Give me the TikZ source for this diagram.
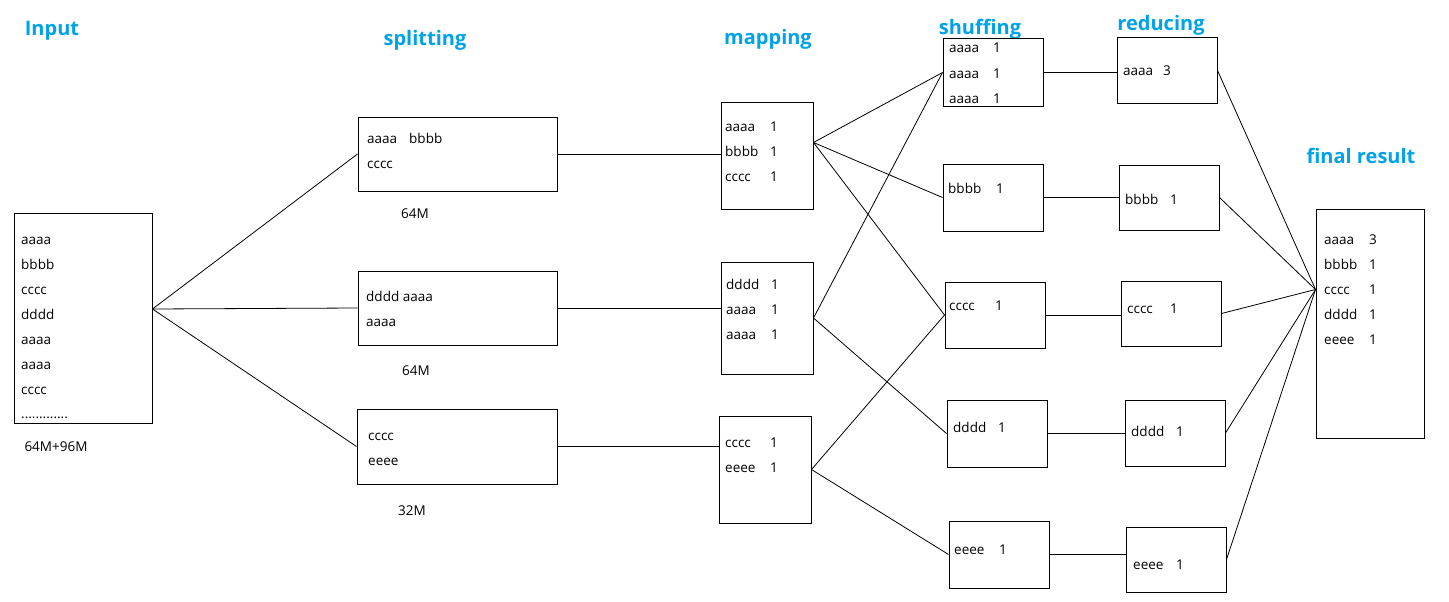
\documentclass[tikz,border=0pt]{standalone}
\usepackage{fontspec}
\setmainfont{Open Sans}
\usetikzlibrary{fit}

\definecolor{headblue}{RGB}{0,162,232}
\newcommand\kv[3][45pt]{\makebox[#1][l]{#2}#3}

\tikzset{
  head/.style={text=headblue,font=\fontsize{20}{24}\selectfont\bfseries,inner sep=0pt},
  box/.style={draw,line width=1pt,inner sep=0pt},
  txt/.style={anchor=west,inner sep=0pt,text height=12pt,text depth=2pt,font=\fontsize{13.5}{15}\selectfont},
  size/.style={txt,anchor=center},
  link/.style={line width=0.8pt}
}

\begin{document}
\begin{tikzpicture}[x=1pt,y=-1pt]
\useasboundingbox (0,0) rectangle (1449,602);

% titles
\node[head] (tin) at (52,31) {Input};
\node[head] (tsplit) at (425,40) {splitting};
\node[head] (tmap) at (768,39) {mapping};
\node[head] (tshuf) at (980,29) {shuffing};
\node[head] (tred) at (1161,25) {reducing};
\node[head] (tfin) at (1361,156) {final result};

% input file
\node[box,fit={(14,213) (152,423)}] (in) {};
\foreach \w [count=\i] in {aaaa,bbbb,cccc,dddd,aaaa,aaaa,cccc}
  \node[txt] at (21,214+25*\i) {\w};
\node[txt] at (21,413) {.............};
\node[size] at (56,446) {64M+96M};

% splitting
\node[box,fit={(358,117) (557,191)}] (s1) {};
\node[txt] at (367,138) {aaaa\hspace{12pt}bbbb};
\node[txt] at (367,163) {cccc};
\node[size] at (415,213) {64M};

\node[box,fit={(358,271) (557,345)}] (s2) {};
\node[txt] at (366,296) {dddd aaaa};
\node[txt] at (366,321) {aaaa};
\node[size] at (416,370) {64M};

\node[box,fit={(357,409) (557,484)}] (s3) {};
\node[txt] at (368,435) {cccc};
\node[txt] at (368,460) {eeee};
\node[size] at (412,510) {32M};

% mapping
\node[box,fit={(721,102) (813,209)}] (m1) {};
\foreach \w [count=\i] in {aaaa,bbbb,cccc}
  \node[txt] at (725,101+25*\i) {\kv{\w}{1}};

\node[box,fit={(721,262) (813,374)}] (m2) {};
\foreach \w [count=\i] in {dddd,aaaa,aaaa}
  \node[txt] at (726,259+25*\i) {\kv{\w}{1}};

\node[box,fit={(719,416) (811,523)}] (m3) {};
\foreach \w [count=\i] in {cccc,eeee}
  \node[txt] at (725,417+25*\i) {\kv{\w}{1}};

% shuffling
\node[box,fit={(943,39) (1043,106)}] (sh1) {};
\foreach \i in {1,2,3}
  \node[txt] at (949,23+25*\i) {\kv[44pt]{aaaa}{1}};
\node[box,fit={(943,164) (1043,231)}] (sh2) {};
\node[txt] at (948,188) {\kv[48pt]{bbbb}{1}};
\node[box,fit={(945,282) (1045,348)}] (sh3) {};
\node[txt] at (949,305) {\kv[46pt]{cccc}{1}};
\node[box,fit={(947,400) (1047,467)}] (sh4) {};
\node[txt] at (953,427) {\kv{dddd}{1}};
\node[box,fit={(949,521) (1049,588)}] (sh5) {};
\node[txt] at (954,549) {\kv{eeee}{1}};

% reducing
\node[box,fit={(1117,38) (1217,103)}] (r1) {};
\node[txt] at (1123,70) {\kv[40pt]{aaaa}{3}};
\node[box,fit={(1119,165) (1219,230)}] (r2) {};
\node[txt] at (1125,199) {\kv{bbbb}{1}};
\node[box,fit={(1121,281) (1221,346)}] (r3) {};
\node[txt] at (1127,308) {\kv[43pt]{cccc}{1}};
\node[box,fit={(1125,400) (1225,466)}] (r4) {};
\node[txt] at (1131,431) {\kv{dddd}{1}};
\node[box,fit={(1126,527) (1226,592)}] (r5) {};
\node[txt] at (1133,564) {\kv[43pt]{eeee}{1}};

% final result
\node[box,fit={(1316,209) (1424,438)}] (fin) {};
\foreach \w/\n [count=\i] in {aaaa/3,bbbb/1,cccc/1,dddd/1,eeee/1}
  \node[txt] at (1324,214+25*\i) {\kv{\w}{\n}};

% links
\coordinate (ino) at ([yshift=9pt]in.east);
\coordinate (m1o) at ([yshift=13pt]m1.east);
\coordinate (fini) at ([yshift=34pt]fin.west);

\foreach \s in {s1,s2,s3}
  \draw[link] (ino) -- (\s.west);
\foreach \i in {1,2,3}
  \draw[link] (s\i.east) -- (s\i.east -| m\i.west);

\foreach \t in {sh1,sh2,sh3}
  \draw[link] (m1o) -- (\t.west);
\foreach \t in {sh1,sh4}
  \draw[link] (m2.east) -- (\t.west);
\foreach \t in {sh3,sh5}
  \draw[link] (m3.east) -- (\t.west);

\foreach \i in {1,...,5}{
  \draw[link] (sh\i.east) -- (sh\i.east -| r\i.west);
  \draw[link] (r\i.east) -- (fini);
}
\end{tikzpicture}
\end{document}
